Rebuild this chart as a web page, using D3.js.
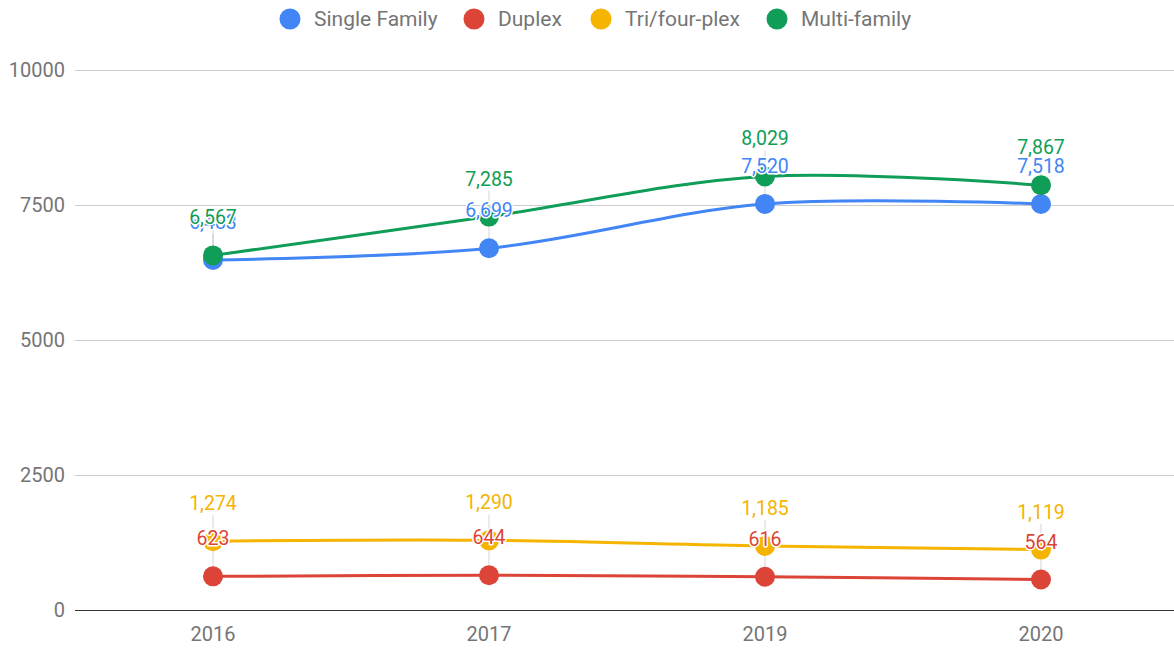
<!DOCTYPE html>
<html>
<head>
<meta charset="utf-8">
<script src="https://cdn.jsdelivr.net/npm/d3@7"></script>
<style>
  body { margin: 0; background: #fff; }
  svg { font-family: Roboto, Arial, sans-serif; }
</style>
</head>
<body>
<div id="chart"></div>
<script>
const years = ['2016', '2017', '2019', '2020'];
const seriesNames = ['Single Family', 'Duplex', 'Tri/four-plex', 'Multi-family'];
const singleFamily = [6483, 6699, 7520, 7518];
const duplex = [623, 644, 616, 564];
const triFourPlex = [1274, 1290, 1185, 1119];
const multiFamily = [6567, 7285, 8029, 7867];
const yTicks = [0, 2500, 5000, 7500, 10000];
const colors = ['#4285F4', '#DB4437', '#F4B400', '#0F9D58'];

const series = [singleFamily, duplex, triFourPlex, multiFamily].map((vals, i) => ({
  name: seriesNames[i],
  color: colors[i],
  values: vals.map((v, j) => ({year: years[j], value: v}))
}));

const W = 1174, H = 650;
const margin = {t: 70, r: -5, b: 40, l: 75};
const width = W - margin.l - margin.r;
const height = H - margin.t - margin.b;

const svg = d3.select('#chart').append('svg').attr('width', W).attr('height', H);
const g = svg.append('g').attr('transform', `translate(${margin.l},${margin.t})`);

const x = d3.scaleBand(years, [0, width]);
const y = d3.scaleLinear([0, 10000], [height, 0]);
const cx = d => x(d.year) + x.bandwidth() / 2;

// gridlines + y labels
g.append('g')
  .call(d3.axisLeft(y).tickValues(yTicks).tickSize(-width).tickPadding(10).tickFormat(d3.format('d')))
  .call(a => a.select('.domain').remove())
  .call(a => a.selectAll('.tick line').attr('stroke', d => d === 0 ? '#333' : '#ccc').attr('stroke-width', 1))
  .call(a => a.selectAll('.tick text').attr('fill', '#757575').attr('font-size', 20).attr('font-family', 'Roboto, Arial, sans-serif'));

// x labels
g.append('g')
  .attr('transform', `translate(0,${height})`)
  .call(d3.axisBottom(x).tickSize(0).tickPadding(17))
  .call(a => a.select('.domain').remove())
  .call(a => a.selectAll('.tick text').attr('fill', '#757575').attr('font-size', 20).attr('font-family', 'Roboto, Arial, sans-serif'));

const line = d3.line()
  .x(cx)
  .y(d => y(d.value))
  .curve(d3.curveCatmullRom.alpha(0.5));

// annotation stems
series.forEach(s => {
  g.append('g').selectAll('line').data(s.values).join('line')
    .attr('x1', cx).attr('x2', cx)
    .attr('y1', d => y(d.value))
    .attr('y2', d => y(d.value) - 26)
    .attr('stroke', '#999').attr('stroke-opacity', 0.4).attr('stroke-width', 1);
});

series.forEach(s => {
  g.append('path').attr('d', line(s.values))
    .attr('fill', 'none').attr('stroke', s.color).attr('stroke-width', 3);
});

series.forEach(s => {
  g.append('g').selectAll('circle').data(s.values).join('circle')
    .attr('cx', cx).attr('cy', d => y(d.value)).attr('r', 10)
    .attr('fill', s.color);
});

// value labels with white halo
const fmt = d3.format(',');
series.forEach(s => {
  const lab = g.append('g').selectAll('g').data(s.values).join('g')
    .attr('transform', d => `translate(${cx(d)},${y(d.value) - 31})`);
  lab.append('text').text(d => fmt(d.value))
    .attr('text-anchor', 'middle').attr('font-size', 19.5)
    .attr('stroke', '#fff').attr('stroke-width', 3).attr('stroke-linejoin', 'round')
    .attr('fill', '#fff');
  lab.append('text').text(d => fmt(d.value))
    .attr('text-anchor', 'middle').attr('font-size', 19.5)
    .attr('fill', s.color);
});

// legend
const legendX = [290, 474, 601, 777];
const legend = svg.append('g').selectAll('g').data(series).join('g')
  .attr('transform', (d, i) => `translate(${legendX[i]},19)`);
legend.append('circle').attr('r', 10.5).attr('fill', d => d.color);
legend.append('text').text(d => d.name)
  .attr('x', 24).attr('dy', '0.35em')
  .attr('font-size', 21).attr('fill', '#757575');
</script>
</body>
</html>
